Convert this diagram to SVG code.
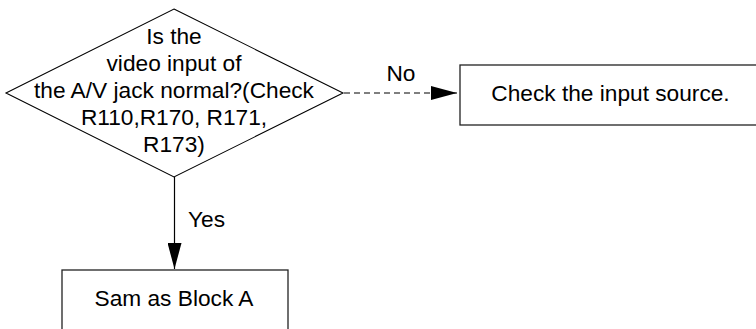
<svg xmlns="http://www.w3.org/2000/svg" width="756" height="329" viewBox="0 0 756 329">
<style>
.t{font-family:"Liberation Sans",Arial,sans-serif;font-size:22.7px;fill:#000}
.c{text-anchor:middle}
.shape{fill:#fff;stroke:#000;stroke-width:1.1}
.box{fill:#fff;stroke:#222;stroke-width:1.3}
.ln{fill:none;stroke:#000;stroke-width:1.2}
.dash{stroke-dasharray:6 4}
</style>
<defs>
<marker id="ah" markerUnits="userSpaceOnUse" markerWidth="28" markerHeight="14" refX="26" refY="7" orient="auto">
<path d="M0,0 L26,7 L0,14 z" fill="#000"/>
</marker>
</defs>
<g id="connectors">
<line class="ln" x1="174.5" y1="177" x2="174.5" y2="269" marker-end="url(#ah)"/>
<line class="ln dash" x1="344" y1="93" x2="457" y2="93" marker-end="url(#ah)"/>
<text class="t c" x="401" y="81">No</text>
<text class="t" x="188" y="227">Yes</text>
</g>
<g id="decision">
<polygon class="shape" points="174,9 343,93 174,177 6,93"/>
<text class="t c" x="174" y="44">Is the</text>
<text class="t c" x="174" y="71">video input of</text>
<text class="t c" x="174" y="98">the A/V jack normal?(Check</text>
<text class="t c" x="174" y="125">R110,R170, R171,</text>
<text class="t c" x="174" y="152">R173)</text>
</g>
<g id="check-input">
<rect class="box" x="460" y="65" width="310" height="60"/>
<text class="t c" x="610.5" y="101">Check the input source.</text>
</g>
<g id="block-a">
<rect class="box" x="62" y="270" width="226" height="80"/>
<text class="t c" x="174" y="306">Sam as Block A</text>
</g>
</svg>
